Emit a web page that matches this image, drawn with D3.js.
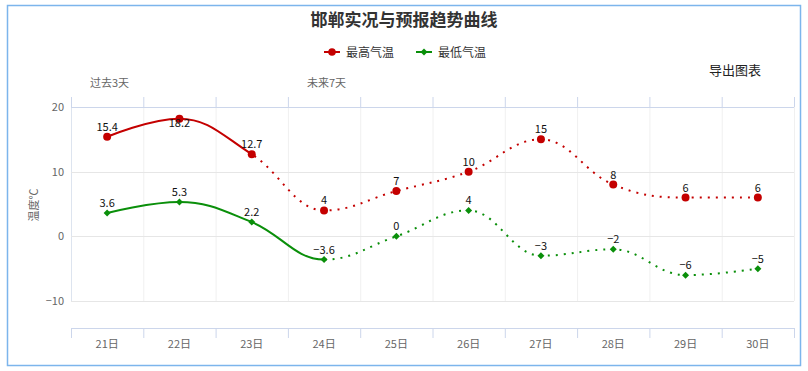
<!DOCTYPE html>
<html>
<head>
<meta charset="utf-8">
<script src="https://cdn.jsdelivr.net/npm/d3@7"></script>
<style>
  html, body { margin: 0; padding: 0; background: #fff; }
  svg { display: block; font-family: 'Noto Sans CJK SC', 'Noto Sans', sans-serif; }
</style>
</head>
<body>
<svg id="svg_chart" width="808" height="371"></svg>
<script>
// data
const days = ['21日', '22日', '23日', '24日', '25日', '26日', '27日', '28日', '29日', '30日'];
const temp_high = [15.4, 18.2, 12.7, 4, 7, 10, 15, 8, 6, 6];
const temp_low = [3.6, 5.3, 2.2, -3.6, 0, 4, -3, -2, -6, -5];
const y_ticks = [-10, 0, 10, 20];
// last index of the observed (solid) part of each series
const split_high = 2;
const split_low = 3;

const color_high = '#c40000';
const color_low = '#0a8f0a';
const color_axis = '#ccd6eb';

const svg = d3.select('svg#svg_chart');
const plot = { left: 71, right: 794, top: 107, bottom: 301 };

const x = d3.scaleBand().domain(days).range([plot.left, plot.right]);
const y = d3.scaleLinear().domain([-10, 20]).range([plot.bottom, plot.top]);
const cx = d => x(d) + x.bandwidth() / 2;

// Highcharts-like spline (smoothing 1.5)
function splinePath(pts) {
  const smoothing = 1.5;
  const denom = smoothing + 1;
  const rc = [];
  let d = `M${pts[0][0]},${pts[0][1]}`;
  for (let i = 1; i < pts.length; i++) {
    const [px, py] = pts[i];
    const [lx, ly] = pts[i - 1];
    let lcx = px, lcy = py;
    if (i < pts.length - 1) {
      const [nx, ny] = pts[i + 1];
      lcx = (smoothing * px + lx) / denom;
      lcy = (smoothing * py + ly) / denom;
      const rcx = (smoothing * px + nx) / denom;
      let rcy = (smoothing * py + ny) / denom;
      const corr = ((rcy - lcy) * (rcx - px)) / (rcx - lcx) + py - rcy;
      lcy += corr;
      rcy += corr;
      if (lcy > ly && lcy > py) { lcy = Math.max(ly, py); rcy = 2 * py - lcy; }
      else if (lcy < ly && lcy < py) { lcy = Math.min(ly, py); rcy = 2 * py - lcy; }
      if (rcy > ny && rcy > py) { rcy = Math.max(ny, py); lcy = 2 * py - rcy; }
      else if (rcy < ny && rcy < py) { rcy = Math.min(ny, py); lcy = 2 * py - rcy; }
      rc[i] = [rcx, rcy];
    }
    const prev = rc[i - 1] || pts[i - 1];
    d += `C${prev[0]},${prev[1]},${lcx},${lcy},${px},${py}`;
  }
  return d;
}

const diamond = r => `M0,${-r}L${r},0L0,${r}L${-r},0Z`;

// frame
svg.append('rect')
  .attr('x', 7.5).attr('y', 5.5).attr('width', 793).attr('height', 360)
  .attr('fill', 'none').attr('stroke', '#7cb5ec').attr('stroke-width', 1.5);

// title
svg.append('text')
  .attr('x', 404).attr('y', 26).attr('text-anchor', 'middle')
  .style('font-size', '17px').style('font-weight', 'bold').attr('fill', '#333')
  .text('邯郸实况与预报趋势曲线');

// legend
const legend_elems = [
  { x: 324, color: color_high, text: '最高气温', marker: 'circle' },
  { x: 416, color: color_low, text: '最低气温', marker: 'diamond' },
];
const lgd = svg.selectAll('.legend')
  .data(legend_elems)
  .enter()
  .append('g')
  .attr('class', 'legend')
  .attr('transform', d => `translate(${d.x}, 52)`);
lgd.append('line')
  .attr('x1', 0).attr('x2', 16)
  .attr('stroke', d => d.color).attr('stroke-width', 2);
lgd.append('path')
  .attr('transform', 'translate(8,0)')
  .attr('d', d => (d.marker === 'circle' ? d3.symbol(d3.symbolCircle, 45)() : diamond(3.5)))
  .attr('fill', d => d.color);
lgd.append('text')
  .attr('x', 22).attr('y', 4.5)
  .style('font-size', '12px').attr('fill', '#333')
  .text(d => d.text);

svg.append('text')
  .attr('x', 709).attr('y', 75)
  .style('font-size', '13px').attr('fill', '#222')
  .text('导出图表');

svg.append('text')
  .attr('x', 90).attr('y', 87)
  .style('font-size', '11px').attr('fill', '#666')
  .text('过去3天');
svg.append('text')
  .attr('x', 307).attr('y', 87)
  .style('font-size', '11px').attr('fill', '#666')
  .text('未来7天');

// grid
const bounds = days.map(d => x(d)).concat([plot.right]);
svg.append('g')
  .selectAll('line')
  .data(bounds)
  .enter()
  .append('line')
  .attr('x1', d => d + 0.5).attr('x2', d => d + 0.5)
  .attr('y1', plot.top).attr('y2', plot.bottom)
  .attr('stroke', (d, i) => (i === 0 ? '#dde4ef' : '#f0f0f0'));

svg.append('g')
  .selectAll('line')
  .data(y_ticks)
  .enter()
  .append('line')
  .attr('x1', plot.left).attr('x2', plot.right)
  .attr('y1', d => Math.round(y(d)) + 0.5).attr('y2', d => Math.round(y(d)) + 0.5)
  .attr('stroke', '#e6e6e6');

// y axis labels
svg.append('g')
  .selectAll('text')
  .data(y_ticks)
  .enter()
  .append('text')
  .attr('x', 64).attr('y', d => y(d) + 4)
  .attr('text-anchor', 'end')
  .style('font-size', '11px').attr('fill', '#666')
  .text(d => (d < 0 ? `−${-d}` : d));

svg.append('text')
  .attr('transform', 'translate(38, 205) rotate(-90)')
  .attr('text-anchor', 'middle')
  .style('font-size', '11px').attr('fill', '#666')
  .text('温度℃');

// top axis (opposite) and bottom axis
const axis_top = svg.append('g');
axis_top.append('line')
  .attr('x1', plot.left).attr('x2', plot.right)
  .attr('y1', plot.top + 0.5).attr('y2', plot.top + 0.5)
  .attr('stroke', color_axis);
axis_top.selectAll('.tick')
  .data(bounds)
  .enter()
  .append('line')
  .attr('x1', d => d + 0.5).attr('x2', d => d + 0.5)
  .attr('y1', plot.top - 10).attr('y2', plot.top)
  .attr('stroke', color_axis);

const axis_y0 = 328;
const axis_bottom = svg.append('g');
axis_bottom.append('line')
  .attr('x1', plot.left).attr('x2', plot.right)
  .attr('y1', axis_y0 + 0.5).attr('y2', axis_y0 + 0.5)
  .attr('stroke', color_axis);
axis_bottom.selectAll('.tick')
  .data(bounds)
  .enter()
  .append('line')
  .attr('x1', d => d + 0.5).attr('x2', d => d + 0.5)
  .attr('y1', axis_y0).attr('y2', axis_y0 + 10)
  .attr('stroke', color_axis);
axis_bottom.selectAll('text')
  .data(days)
  .enter()
  .append('text')
  .attr('x', d => cx(d)).attr('y', 348)
  .attr('text-anchor', 'middle')
  .style('font-size', '11px').attr('fill', '#666')
  .text(d => d);

// series
const defs = svg.append('defs');
function drawSeries(name, values, split, color, marker) {
  const pts = values.map((v, i) => [cx(days[i]), y(v)]);
  const d = splinePath(pts);
  const xs = pts[split][0];
  defs.append('clipPath').attr('id', `clip_${name}_a`)
    .append('rect').attr('x', 0).attr('y', 0).attr('width', xs).attr('height', 371);
  defs.append('clipPath').attr('id', `clip_${name}_b`)
    .append('rect').attr('x', xs).attr('y', 0).attr('width', 808 - xs).attr('height', 371);

  const g = svg.append('g').attr('id', name);
  g.append('path')
    .attr('d', d).attr('fill', 'none')
    .attr('stroke', color).attr('stroke-width', 2)
    .attr('stroke-linecap', 'round').attr('stroke-linejoin', 'round')
    .attr('clip-path', `url(#clip_${name}_a)`);
  g.append('path')
    .attr('d', d).attr('fill', 'none')
    .attr('stroke', color).attr('stroke-width', 2)
    .attr('stroke-dasharray', '2,6')
    .attr('clip-path', `url(#clip_${name}_b)`);

  g.selectAll('.marker')
    .data(pts)
    .enter()
    .append('path')
    .attr('class', 'marker')
    .attr('transform', p => `translate(${p[0]},${p[1]})`)
    .attr('d', marker === 'circle' ? d3.symbol(d3.symbolCircle, 50)() : diamond(3.5))
    .attr('fill', color);

  g.selectAll('.label')
    .data(values)
    .enter()
    .append('text')
    .attr('class', 'label')
    .attr('x', (v, i) => pts[i][0])
    .attr('y', (v, i) => {
      const base = pts[i][1] - 6;
      return base - 16 < plot.top ? plot.top + 20 : base;
    })
    .attr('text-anchor', 'middle')
    .style('font-size', '11px').attr('fill', '#111')
    .text(v => (v < 0 ? `−${-v}` : v));
}

drawSeries('high', temp_high, split_high, color_high, 'circle');
drawSeries('low', temp_low, split_low, color_low, 'diamond');
</script>
</body>
</html>
